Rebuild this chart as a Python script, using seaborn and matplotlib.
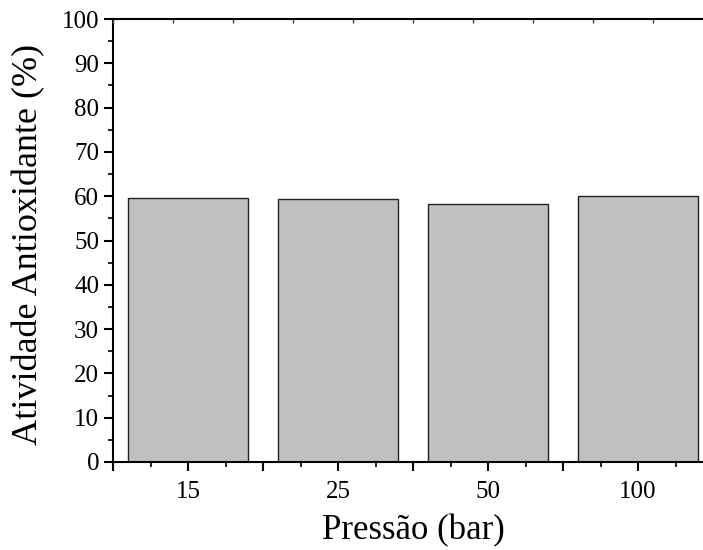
import matplotlib
matplotlib.use("Agg")
import matplotlib.pyplot as plt
import seaborn as sns
import pandas as pd
from matplotlib.ticker import MultipleLocator

categories = ["15", "25", "50", "100"]
values = [59.7, 59.4, 58.3, 60.1]
yticks = [0, 10, 20, 30, 40, 50, 60, 70, 80, 90, 100]

sns.set_theme(style="white")
plt.rcParams["font.family"] = ["Liberation Serif", "DejaVu Serif"]

df = pd.DataFrame({"Pressao": categories, "Atividade": values})

fig = plt.figure(figsize=(7.03, 5.5), dpi=100)
ax = fig.add_axes([113/703, 88/550, 600/703, 443/550])

sns.barplot(data=df, x="Pressao", y="Atividade", order=categories,
            color="#C0C0C0", saturation=1, width=0.8,
            edgecolor="#222222", linewidth=1.0, ax=ax)

ax.set_xlim(-0.5, 3.5)
ax.set_ylim(0, 100)
ax.set_yticks(yticks)
ax.yaxis.set_minor_locator(MultipleLocator(5))
ax.set_xticks([-0.5, 0, 0.5, 1, 1.5, 2, 2.5, 3, 3.5])
ax.set_xticklabels(["", "15", "", "25", "", "50", "", "100", ""])
ax.xaxis.set_minor_locator(MultipleLocator(0.25))

for s in ["left", "bottom", "top"]:
    ax.spines[s].set_linewidth(1.5)
    ax.spines[s].set_color("black")
ax.spines["right"].set_visible(False)

ax.tick_params(axis="both", which="major", direction="out", length=6.5, width=1.5,
               colors="black", labelsize=18, bottom=True, left=True, top=False, right=False)
ax.tick_params(axis="both", which="minor", direction="out", length=3.6, width=1.2,
               colors="black", bottom=True, left=True, top=False, right=False)
ax.tick_params(axis="x", which="major", pad=7)
ax.tick_params(axis="y", which="major", pad=3.5)

ax2 = ax.twiny()
ax2.set_xlim(0, 1)
ax2.xaxis.set_major_locator(MultipleLocator(0.1))
ax2.tick_params(axis="x", which="major", direction="in", length=3, width=1,
                colors="#444444", labeltop=False, top=True)
for s in ax2.spines.values():
    s.set_visible(False)

ax.set_xlabel("Pressão (bar)", fontsize=25, color="black")
ax.set_ylabel("Atividade Antioxidante (%)", fontsize=26, color="black")
ax.xaxis.set_label_coords(0.5, -0.118)
ax.yaxis.set_label_coords(-0.112, 0.49)

fig.savefig("out.png", dpi=100)
